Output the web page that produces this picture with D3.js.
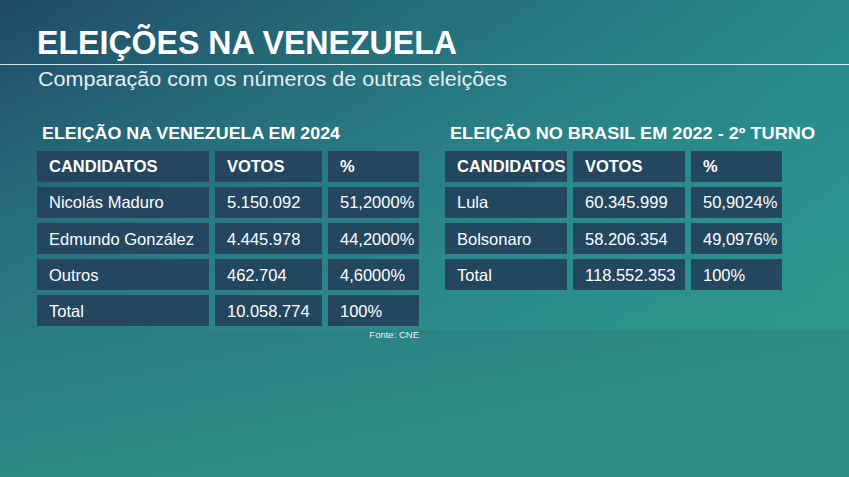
<!DOCTYPE html><html><head><meta charset="utf-8"><script src="https://d3js.org/d3.v7.min.js"></script>
<style>body{margin:0}svg{display:block}</style></head><body><script>
const headers=["CANDIDATOS","VOTOS","%"];
const vzCandidates=["Nicolás Maduro","Edmundo González","Outros","Total"];
const vzVotes=["5.150.092","4.445.978","462.704","10.058.774"];
const vzPct=["51,2000%","44,2000%","4,6000%","100%"];
const brCandidates=["Lula","Bolsonaro","Total"];
const brVotes=["60.345.999","58.206.354","118.552.353"];
const brPct=["50,9024%","49,0976%","100%"];
const W=849,H=477;
const svg=d3.select("body").append("svg").attr("width",W).attr("height",H);
const defs=svg.append("defs");
const g=defs.append("linearGradient").attr("id","bg").attr("x1",0).attr("y1",0).attr("x2",0.35).attr("y2",1);
g.append("stop").attr("offset","0").attr("stop-color","#1f4a66");
g.append("stop").attr("offset","0.45").attr("stop-color","#28707e");
g.append("stop").attr("offset","1").attr("stop-color","#2f9088");
svg.append("rect").attr("width",W).attr("height",H).attr("fill","url(#bg)");
const g2=defs.append("linearGradient").attr("id","bg2").attr("x1",0).attr("x2",1);
g2.append("stop").attr("offset","0").attr("stop-color","#2aa094").attr("stop-opacity",0);
g2.append("stop").attr("offset","1").attr("stop-color","#2aa094").attr("stop-opacity",0.6);
svg.append("rect").attr("width",W).attr("height",330).attr("fill","url(#bg2)");
const F="'Liberation Sans', Arial, sans-serif";
function fit(sel,w){sel.attr("textLength",w).attr("lengthAdjust","spacingAndGlyphs");}
fit(svg.append("text").attr("x",37).attr("y",54).text("ELEIÇÕES NA VENEZUELA").attr("fill","#fff").attr("font-family",F).attr("font-weight",900).attr("font-size",33),420);
svg.append("line").attr("x1",0).attr("x2",W).attr("y1",64.5).attr("y2",64.5).attr("stroke","#d8e6ee").attr("stroke-width",1.2);
fit(svg.append("text").attr("x",38).attr("y",86).text("Comparação com os números de outras eleições").attr("fill","#e6eef2").attr("font-family",F).attr("font-size",20),469);
const rowY=d3.scaleBand().domain(d3.range(5)).range([151,326]).paddingInner(5/35);
function table(x0,title,tw,cols,names,votes,pct){
  fit(svg.append("text").attr("x",x0+5).attr("y",139).text(title).attr("fill","#fff").attr("font-family",F).attr("font-weight",700).attr("font-size",16.5),tw);
  const rows=[headers].concat(names.map((n,i)=>[n,votes[i],pct[i]]));
  rows.forEach((r,ri)=>{
    r.forEach((t,ci)=>{
      const c=cols[ci];
      svg.append("rect").attr("x",x0+c[0]).attr("y",rowY(ri)).attr("width",c[1]).attr("height",rowY.bandwidth()).attr("fill","#24435e").attr("opacity",0.95);
      svg.append("text").attr("x",x0+c[0]+12).attr("y",rowY(ri)+rowY.bandwidth()/2+6).text(t).attr("fill","#fff").attr("font-family",F).attr("font-size",16.5).attr("font-weight",ri==0?700:400);
    });
  });
}
table(37,"ELEIÇÃO NA VENEZUELA EM 2024",298,[[0,172],[178,107],[291,91]],vzCandidates,vzVotes,vzPct);
table(445,"ELEIÇÃO NO BRASIL EM 2022 - 2º TURNO",365,[[0,122],[128,112],[246,91]],brCandidates,brVotes,brPct);
svg.append("text").attr("x",419).attr("y",338).attr("text-anchor","end").text("Fonte: CNE").attr("fill","#e6eef2").attr("font-family",F).attr("font-size",9.5);
</script></body></html>
